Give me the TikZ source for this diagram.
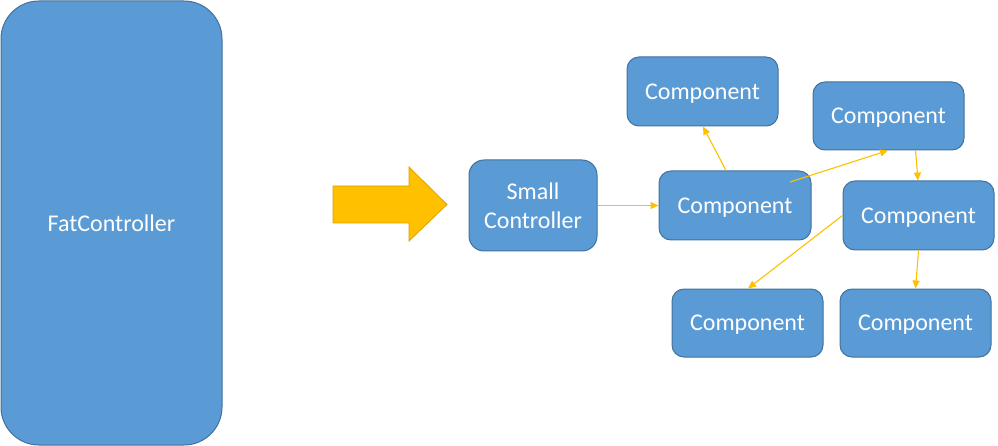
\documentclass[tikz,border=0pt]{standalone}
\usepackage{fontspec}
\setmainfont{Carlito}
\usetikzlibrary{arrows.meta}
\definecolor{boxfill}{HTML}{5B9BD5}
\definecolor{boxline}{HTML}{41719C}
\definecolor{gold}{HTML}{FFC000}
\definecolor{golddark}{HTML}{D9A300}
\begin{document}
\begin{tikzpicture}[x=1pt,y=-1pt,
  box/.style={draw=boxline, line width=1pt, fill=boxfill, rounded corners=12pt,
    text=white, font=\fontsize{24}{29}\selectfont, align=center, inner sep=0pt,
    text depth=0pt,
    minimum width=151pt, minimum height=69pt},
  conn/.style={draw=gold, line width=1.1pt, -{Triangle[length=8pt,width=7pt]}}]
\useasboundingbox (0,0) rectangle (998,446);
\node[box, minimum width=221pt, minimum height=444pt, rounded corners=38pt] (fat) at (111.5,223) {FatController};
\filldraw[fill=gold, draw=golddark, line width=0.8pt]
  (333,186) -- (409,186) -- (409,167) -- (447,204.5) -- (409,241) -- (409,223) -- (333,223) -- cycle;
\node[box, minimum width=128pt, minimum height=91pt, rounded corners=15pt] (sc) at (533,205.5) {Small\\Controller};
\node[box, minimum width=152pt] (c1) at (735,205.5) {Component};
\node[box] (c0) at (702.5,91.5) {Component};
\node[box, minimum height=68pt] (c2) at (888.5,116) {Component};
\node[box] (c3) at (918.5,215.5) {Component};
\node[box, minimum height=68pt] (c4) at (747.5,323) {Component};
\node[box, minimum height=68pt] (c5) at (915.5,323) {Component};
\draw[conn] (sc.east) -- (c1.west);
\draw[conn] ([xshift=-9pt]c1.north) -- ([xshift=0.5pt]c0.south);
\draw[conn] ([shift={(55,-23.5)}]c1.center) -- ([xshift=-0.5pt]c2.south);
\draw[conn] ([xshift=27pt]c2.south) -- ([xshift=-0.5pt]c3.north);
\draw[conn] (c3.west) -- ([xshift=0.5pt]c4.north);
\draw[conn] (c3.south) -- (c5.north);
\end{tikzpicture}
\end{document}
